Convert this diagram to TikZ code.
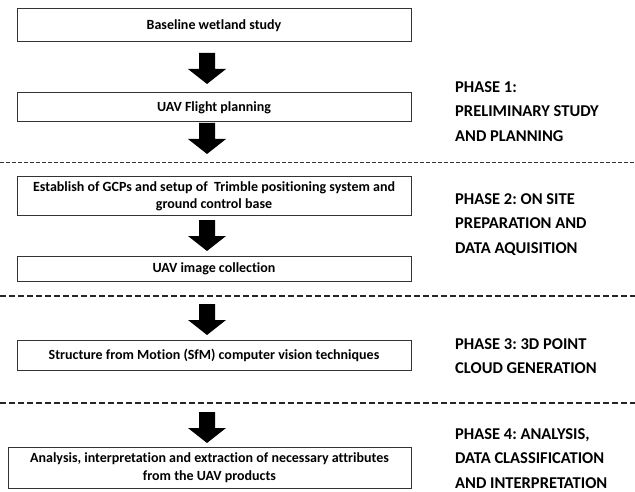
\documentclass[tikz,border=0pt]{standalone}
\usepackage{fontspec}
\setmainfont{Carlito}[Ligatures={NoCommon}]
\frenchspacing
\begin{document}
\begin{tikzpicture}[x=1pt,y=-1pt,
  stepbox/.style={draw=black!80, line width=1pt, fill=white, inner sep=0pt, align=center,
    font=\fontsize{14}{17.5}\selectfont\bfseries},
  phasetxt/.style={anchor=north west, align=left, inner sep=0pt,
    font=\fontsize{16.5}{24.5}\selectfont\bfseries},
  thindash/.style={line width=1pt, dash pattern=on 4pt off 2pt, black!80},
  thickdash/.style={line width=2pt, dash pattern=on 6pt off 3pt, black!85},
  blockarrow/.pic={\fill[black] (-8,0) -- (8,0) -- (8,16) -- (19,16) -- (0,31) -- (-19,16) -- (-8,16) -- cycle;}
]
\useasboundingbox (0,0) rectangle (635,492);
\fill[white] (0,0) rectangle (635,492);

% boxes
\node[stepbox, minimum width=394pt, minimum height=33pt] (b1) at (214,25.5) {Baseline wetland study};
\node[stepbox, minimum width=394pt, minimum height=29pt] (b2) at (214,107.5) {UAV Flight planning};
\node[stepbox, minimum width=394pt, minimum height=39pt] (b3) at (214,196.5) {Establish of GCPs and setup of \ Trimble positioning system and\\ground control base};
\node[stepbox, minimum width=394pt, minimum height=25pt] (b4) at (214,268.5) {UAV image collection};
\node[stepbox, minimum width=394pt, minimum height=30pt] (b5) at (214,355) {Structure from Motion (SfM) computer vision techniques};
\node[stepbox, minimum width=403pt, minimum height=41pt] (b6) at (209.5,467.5) {Analysis, interpretation and extraction of necessary attributes\\from the UAV products};

% block arrows
\coordinate (a1) at (207,53);
\coordinate (a2) at (207,123);
\coordinate (a3) at (207,220);
\coordinate (a4) at (207,304);
\coordinate (a5) at (207,412);
\foreach \a in {a1,a2,a3,a4,a5} { \pic at (\a) {blockarrow}; }

% phase separators
\coordinate (d1l) at (0,163); \coordinate (d1r) at (635,163);
\coordinate (d2l) at (0,296); \coordinate (d2r) at (635,296);
\coordinate (d3l) at (0,403); \coordinate (d3r) at (635,403);
\draw[thindash] (d1l) -- (d1r);
\draw[thickdash] (d2l) -- (d2r);
\draw[thickdash] (d3l) -- (d3r);

% phase labels
\node[phasetxt] (p1) at (455,81) {PHASE 1:\\PRELIMINARY STUDY\\AND PLANNING};
\node[phasetxt] (p2) at (455,193) {PHASE 2: ON SITE\\PREPARATION AND\\DATA AQUISITION};
\node[phasetxt] (p3) at (455,338) {PHASE 3: 3D POINT\\CLOUD GENERATION};
\node[phasetxt] (p4) at (455,428) {PHASE 4: ANALYSIS,\\DATA CLASSIFICATION\\AND INTERPRETATION};
\end{tikzpicture}
\end{document}
